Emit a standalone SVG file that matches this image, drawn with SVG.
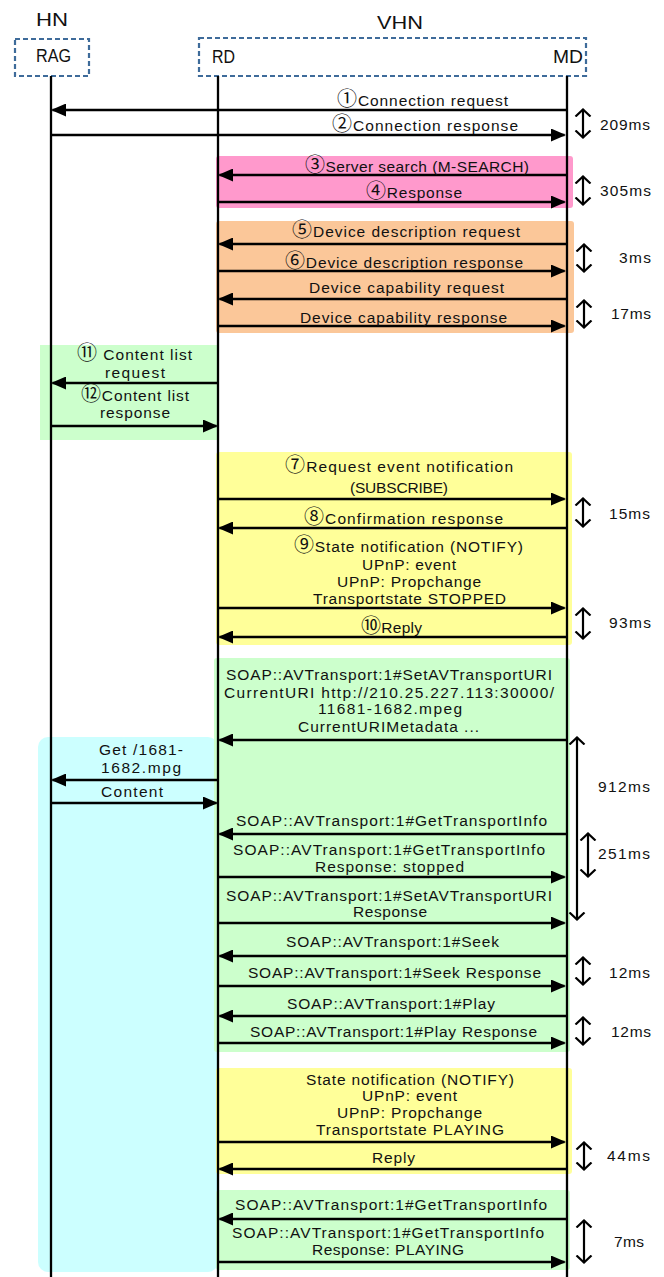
<svg xmlns="http://www.w3.org/2000/svg" width="664" height="1277" viewBox="0 0 664 1277">
  <style>
    text { font-family: "Liberation Sans", "Noto Sans CJK JP", sans-serif; font-size: 15.5px; fill: #111; }
    .n { font-family: "Noto Sans CJK JP", sans-serif; font-size: 20px; }
    .hdr { font-size: 19px; }
    .pt { font-size: 18px; }
    .life { stroke: #000; stroke-width: 2.3; }
    .msg { stroke: #000; stroke-width: 2.6; fill: none; }
    .tm { stroke: #000; stroke-width: 2.2; fill: none; }
    .grp { stroke: #3e6b9a; stroke-width: 2.2; stroke-dasharray: 5 3; fill: #fff; }
  </style>
  <defs>
    <marker id="ah" viewBox="0 0 15 13" refX="13.5" refY="6.5" markerWidth="15" markerHeight="13" markerUnits="userSpaceOnUse" orient="auto">
      <path d="M0,0 L15,6.5 L0,13 Z" fill="#000"/>
    </marker>
    <marker id="oa" viewBox="0 0 9 18" refX="8" refY="9" markerWidth="9" markerHeight="18" markerUnits="userSpaceOnUse" orient="auto-start-reverse">
      <path d="M0.5,1.5 L7.5,9 L0.5,16.5" fill="none" stroke="#000" stroke-width="2.2"/>
    </marker>
  </defs>

  <!-- phase backgrounds -->
  <g id="phases">
    <rect x="216" y="156" width="357" height="52" rx="3" fill="#ff99cc"/>
    <rect x="216" y="221" width="358" height="112" rx="3" fill="#fbc799"/>
    <rect x="40" y="345" width="178" height="95" fill="#ccffcc"/>
    <rect x="216" y="452" width="356" height="193" rx="3" fill="#ffff99"/>
    <rect x="38" y="737" width="180" height="535" rx="10" fill="#ccffff"/>
    <rect x="214" y="658" width="356" height="394" rx="3" fill="#ccffcc"/>
    <rect x="216" y="1068" width="356" height="106" rx="3" fill="#ffff99"/>
    <rect x="216" y="1190" width="354" height="80" rx="3" fill="#ccffcc"/>
  </g>

  <!-- participants -->
  <g id="HN">
    <text class="hdr" x="36" y="26" textLength="32" lengthAdjust="spacingAndGlyphs">HN</text>
    <rect class="grp" x="15" y="39" width="74" height="37"/>
    <text class="pt" x="36" y="62" textLength="35" lengthAdjust="spacingAndGlyphs">RAG</text>
  </g>
  <g id="VHN">
    <text class="hdr" x="377" y="29" textLength="46" lengthAdjust="spacingAndGlyphs">VHN</text>
    <rect class="grp" x="199" y="38" width="387" height="38"/>
    <text class="pt" x="212" y="63" textLength="23" lengthAdjust="spacingAndGlyphs">RD</text>
    <text class="pt" x="553" y="63" textLength="30" lengthAdjust="spacingAndGlyphs">MD</text>
  </g>

  <g id="lifelines">
    <line class="life" x1="51" y1="76" x2="51" y2="1277"/>
    <line class="life" x1="218" y1="76" x2="218" y2="1277"/>
    <line class="life" x1="567" y1="76" x2="567" y2="1277"/>
  </g>

  <!-- messages -->
  <g id="connectors">
    <line class="msg" x1="567" y1="110" x2="52.5" y2="110" marker-end="url(#ah)"/>
    <line class="msg" x1="51" y1="135" x2="564.5" y2="135" marker-end="url(#ah)"/>
    <line class="msg" x1="567" y1="175" x2="219.5" y2="175" marker-end="url(#ah)"/>
    <line class="msg" x1="218" y1="202" x2="564.5" y2="202" marker-end="url(#ah)"/>
    <line class="msg" x1="567" y1="244" x2="219.5" y2="244" marker-end="url(#ah)"/>
    <line class="msg" x1="218" y1="271" x2="564.5" y2="271" marker-end="url(#ah)"/>
    <line class="msg" x1="567" y1="299" x2="219.5" y2="299" marker-end="url(#ah)"/>
    <line class="msg" x1="218" y1="326" x2="564.5" y2="326" marker-end="url(#ah)"/>
    <line class="msg" x1="218" y1="383" x2="52.5" y2="383" marker-end="url(#ah)"/>
    <line class="msg" x1="51" y1="426" x2="216.5" y2="426" marker-end="url(#ah)"/>
    <line class="msg" x1="218" y1="499" x2="564.5" y2="499" marker-end="url(#ah)"/>
    <line class="msg" x1="567" y1="528" x2="219.5" y2="528" marker-end="url(#ah)"/>
    <line class="msg" x1="218" y1="608" x2="564.5" y2="608" marker-end="url(#ah)"/>
    <line class="msg" x1="567" y1="637" x2="219.5" y2="637" marker-end="url(#ah)"/>
    <line class="msg" x1="567" y1="740" x2="219.5" y2="740" marker-end="url(#ah)"/>
    <line class="msg" x1="218" y1="780" x2="52.5" y2="780" marker-end="url(#ah)"/>
    <line class="msg" x1="51" y1="803" x2="216.5" y2="803" marker-end="url(#ah)"/>
    <line class="msg" x1="567" y1="834" x2="219.5" y2="834" marker-end="url(#ah)"/>
    <line class="msg" x1="218" y1="877" x2="564.5" y2="877" marker-end="url(#ah)"/>
    <line class="msg" x1="218" y1="923" x2="564.5" y2="923" marker-end="url(#ah)"/>
    <line class="msg" x1="567" y1="956" x2="219.5" y2="956" marker-end="url(#ah)"/>
    <line class="msg" x1="218" y1="986" x2="564.5" y2="986" marker-end="url(#ah)"/>
    <line class="msg" x1="567" y1="1016" x2="219.5" y2="1016" marker-end="url(#ah)"/>
    <line class="msg" x1="218" y1="1043" x2="564.5" y2="1043" marker-end="url(#ah)"/>
    <line class="msg" x1="218" y1="1142" x2="564.5" y2="1142" marker-end="url(#ah)"/>
    <line class="msg" x1="567" y1="1169" x2="219.5" y2="1169" marker-end="url(#ah)"/>
    <line class="msg" x1="567" y1="1219" x2="219.5" y2="1219" marker-end="url(#ah)"/>
    <line class="msg" x1="218" y1="1262" x2="564.5" y2="1262" marker-end="url(#ah)"/>
  </g>

  <!-- message labels -->
  <g id="labels">
    <text x="337" y="106" textLength="171"><tspan class="n">①</tspan>Connection request</text>
    <text x="332" y="131" textLength="186"><tspan class="n">②</tspan>Connection response</text>
    <text x="305" y="172" textLength="224"><tspan class="n">③</tspan>Server search (M-SEARCH)</text>
    <text x="366" y="198" textLength="96"><tspan class="n">④</tspan>Response</text>
    <text x="292" y="237" textLength="228"><tspan class="n">⑤</tspan>Device description request</text>
    <text x="285" y="268" textLength="238"><tspan class="n">⑥</tspan>Device description response</text>
    <text x="309" y="293" textLength="195">Device capability request</text>
    <text x="300" y="323" textLength="207">Device capability response</text>
    <text x="77" y="360" textLength="115"><tspan class="n">⑪</tspan> Content list</text>
    <text x="105" y="378" textLength="60">request</text>
    <text x="81" y="401" textLength="108"><tspan class="n">⑫</tspan>Content list</text>
    <text x="100" y="418" textLength="70">response</text>
    <text x="285" y="472" textLength="228"><tspan class="n">⑦</tspan>Request event notification</text>
    <text x="350" y="493" textLength="98">(SUBSCRIBE)</text>
    <text x="304" y="524" textLength="199"><tspan class="n">⑧</tspan>Confirmation response</text>
    <text x="294" y="552" textLength="229"><tspan class="n">⑨</tspan>State notification (NOTIFY)</text>
    <text x="362" y="570" textLength="94">UPnP: event</text>
    <text x="337" y="587" textLength="144">UPnP: Propchange</text>
    <text x="313" y="604" textLength="193">Transportstate STOPPED</text>
    <text x="361" y="633" textLength="61"><tspan class="n">⑩</tspan>Reply</text>
    <text x="226" y="680" textLength="326">SOAP::AVTransport:1#SetAVTransportURI</text>
    <text x="224" y="698" textLength="330">CurrentURI http://210.25.227.113:30000/</text>
    <text x="318" y="714" textLength="144">11681-1682.mpeg</text>
    <text x="298" y="732" textLength="181">CurrentURIMetadata ...</text>
    <text x="99" y="755" textLength="84">Get /1681-</text>
    <text x="101" y="773" textLength="80">1682.mpg</text>
    <text x="101" y="797" textLength="62">Content</text>
    <text x="236" y="826" textLength="311">SOAP::AVTransport:1#GetTransportInfo</text>
    <text x="233" y="855" textLength="312">SOAP::AVTransport:1#GetTransportInfo</text>
    <text x="315" y="872" textLength="149">Response: stopped</text>
    <text x="226" y="901" textLength="326">SOAP::AVTransport:1#SetAVTransportURI</text>
    <text x="353" y="917" textLength="74">Response</text>
    <text x="286" y="947" textLength="213">SOAP::AVTransport:1#Seek</text>
    <text x="248" y="978" textLength="293">SOAP::AVTransport:1#Seek Response</text>
    <text x="287" y="1009" textLength="208">SOAP::AVTransport:1#Play</text>
    <text x="250" y="1037" textLength="287">SOAP::AVTransport:1#Play Response</text>
    <text x="306" y="1085" textLength="208">State notification (NOTIFY)</text>
    <text x="362" y="1101" textLength="95">UPnP: event</text>
    <text x="337" y="1118" textLength="145">UPnP: Propchange</text>
    <text x="316" y="1135" textLength="188">Transportstate PLAYING</text>
    <text x="372" y="1163" textLength="43">Reply</text>
    <text x="235" y="1210" textLength="312">SOAP::AVTransport:1#GetTransportInfo</text>
    <text x="232" y="1238" textLength="312">SOAP::AVTransport:1#GetTransportInfo</text>
    <text x="312" y="1255" textLength="152">Response: PLAYING</text>
  </g>

  <!-- timing spans -->
  <g id="timings">
    <line class="tm" x1="583" y1="109" x2="583" y2="138" marker-start="url(#oa)" marker-end="url(#oa)"/>
    <text x="600" y="130" textLength="50">209ms</text>
    <line class="tm" x1="583" y1="176" x2="583" y2="205" marker-start="url(#oa)" marker-end="url(#oa)"/>
    <text x="600" y="196" textLength="51">305ms</text>
    <line class="tm" x1="584" y1="244" x2="584" y2="272" marker-start="url(#oa)" marker-end="url(#oa)"/>
    <text x="619" y="263" textLength="32">3ms</text>
    <line class="tm" x1="584" y1="300" x2="584" y2="328" marker-start="url(#oa)" marker-end="url(#oa)"/>
    <text x="611" y="319" textLength="40">17ms</text>
    <line class="tm" x1="583" y1="498" x2="583" y2="527" marker-start="url(#oa)" marker-end="url(#oa)"/>
    <text x="609" y="519" textLength="41">15ms</text>
    <line class="tm" x1="583" y1="608" x2="583" y2="639" marker-start="url(#oa)" marker-end="url(#oa)"/>
    <text x="609" y="628" textLength="42">93ms</text>
    <line class="tm" x1="577" y1="737" x2="577" y2="920" marker-start="url(#oa)" marker-end="url(#oa)"/>
    <text x="598" y="792" textLength="52">912ms</text>
    <line class="tm" x1="588" y1="833" x2="588" y2="877" marker-start="url(#oa)" marker-end="url(#oa)"/>
    <text x="598" y="859" textLength="52">251ms</text>
    <line class="tm" x1="583" y1="957" x2="583" y2="985" marker-start="url(#oa)" marker-end="url(#oa)"/>
    <text x="609" y="978" textLength="41">12ms</text>
    <line class="tm" x1="583" y1="1017" x2="583" y2="1045" marker-start="url(#oa)" marker-end="url(#oa)"/>
    <text x="611" y="1037" textLength="40">12ms</text>
    <line class="tm" x1="584" y1="1142" x2="584" y2="1170" marker-start="url(#oa)" marker-end="url(#oa)"/>
    <text x="607" y="1161" textLength="43">44ms</text>
    <line class="tm" x1="584" y1="1220" x2="584" y2="1263" marker-start="url(#oa)" marker-end="url(#oa)"/>
    <text x="614" y="1247" textLength="30">7ms</text>
  </g>
</svg>
